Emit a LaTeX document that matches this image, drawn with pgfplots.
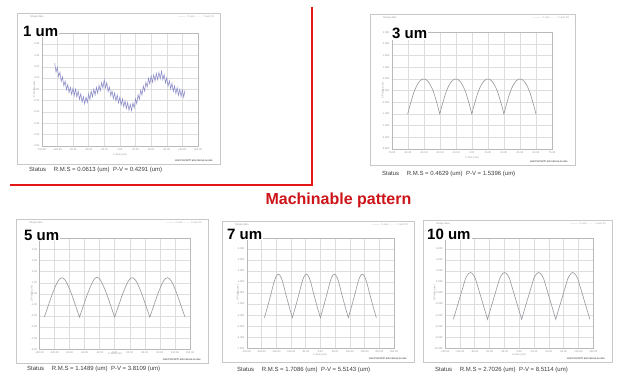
\documentclass[border=0pt]{standalone}
\usepackage{pgfplots}
\pgfplotsset{compat=1.18}
\usepackage{fontspec}
\setmainfont{Liberation Sans}
\definecolor{redline}{RGB}{228,22,22}
\definecolor{titlered}{RGB}{205,20,25}
\definecolor{curvegray}{RGB}{150,150,158}
\definecolor{curvelav}{RGB}{138,138,200}
\definecolor{framegray}{RGB}{200,200,200}
\definecolor{gridgray}{RGB}{222,222,222}
\definecolor{statusgray}{RGB}{60,60,60}
\pgfplotsset{
  panel/.style={
    scale only axis,
    axis line style={draw=gray!55, line width=0.35pt},
    grid=major,
    major grid style={draw=gridgray, line width=0.35pt},
    tick style={draw=none},
    tick label style={font=\fontsize{2.6}{3}\selectfont, text=gray!85},
    xticklabel style={yshift=1.2pt},
    yticklabel style={xshift=1.2pt},
    /pgf/number format/assume math mode=true,
    /pgf/number format/.cd, fixed, fixed zerofill, precision=2,
  },
}
\newcommand{\tinytxt}{\fontsize{2.6}{3}\selectfont}
\newcommand{\biglbl}{\fontsize{15}{16}\selectfont\bfseries}
\newcommand{\statustxt}{\fontsize{6}{7}\selectfont\color{statusgray}}
\begin{document}
\begin{tikzpicture}
\path[use as bounding box, fill=white] (0,0) rectangle (619pt,374pt);
% ---------- frames ----------
\draw[framegray, line width=0.5pt, fill=white] (17pt,210pt) rectangle (220pt,361pt);
\draw[framegray, line width=0.5pt, fill=white] (370pt,209pt) rectangle (575pt,360pt);
\draw[framegray, line width=0.5pt, fill=white] (16pt,11pt) rectangle (208pt,155pt);
\draw[framegray, line width=0.5pt, fill=white] (222pt,12pt) rectangle (414pt,153pt);
\draw[framegray, line width=0.5pt, fill=white] (423pt,12pt) rectangle (612pt,154pt);
% ---------- small texts inside frames ----------
\foreach \fx/\fy/\rx/\bx/\by/\cx/\cy in {17/361/220/213/212/120/219, 370/360/575/568/211/472/216, 16/155/208/201/13/115/20, 222/153/414/407/14/320/19, 423/154/612/605/14/519/19}{
  \node[anchor=north west, inner sep=0pt, text=gray!80] at (\fx pt+13pt,\fy pt-2pt) {\tinytxt Shape data};
  \node[anchor=north east, inner sep=0pt, text=gray!70] at (\rx pt-6pt,\fy pt-2pt) {\tinytxt ———\ \ X-axis\ \ - - - -\ \ Y-axis Fit};
  \node[anchor=south east, inner sep=0pt, text=gray!30!black] at (\bx pt,\by pt) {\tinytxt Link:PLUSP/P arb.stat.an.ne.dev};
  \node[inner sep=0pt, text=gray!80] at (\cx pt,\cy pt) {\tinytxt X-Axis (um)};
}
% ---------- panel 1 um ----------
\begin{axis}[panel, at={(41.7pt,228pt)}, anchor=south west, width=156.3pt, height=113.3pt,
  xmin=-150, xmax=150, ymin=-0.5, ymax=0.5,
  xtick={-150,-120,...,150}, ytick={-0.5,-0.4,-0.3,-0.2,-0.1,0,0.1,0.2,0.3,0.4},
  ylabel={\tinytxt Z-Profile (um)}, ylabel style={text=gray!80, yshift=-9pt}]
\addplot[curvelav, line width=0.55pt] coordinates {
(-125,0.23)(-122.5,0.153)(-120,0.195)(-117.5,0.113)(-115,0.15)(-112.5,0.07)(-110,0.11)(-107.5,0.031)(-105,0.072)(-102.5,-0.003)(-100,0.043)(-97.5,-0.03)(-95,0.018)(-92.5,-0.046)(-90,0.011)(-87.5,-0.053)(-85,0.003)(-82.5,-0.066)(-80,-0.015)(-77.5,-0.088)(-75,-0.04)(-72.5,-0.113)(-70,-0.065)(-67.5,-0.128)(-65,-0.07)(-62.5,-0.116)(-60,-0.042)(-57.5,-0.089)(-55,-0.015)(-52.5,-0.067)(-50,0.002)(-47.5,-0.05)(-45,0.018)(-42.5,-0.034)(-40,0.035)(-37.5,-0.013)(-35,0.06)(-32.5,0.013)(-30,0.085)(-27.5,0.013)(-25,0.06)(-22.5,-0.02)(-20,0.02)(-17.5,-0.057)(-15,-0.014)(-12.5,-0.083)(-10,-0.032)(-7.5,-0.102)(-5,-0.051)(-2.5,-0.121)(0,-0.07)(2.5,-0.138)(5,-0.085)(7.5,-0.153)(10,-0.101)(12.5,-0.169)(15,-0.117)(17.5,-0.185)(20,-0.133)(22.5,-0.187)(25,-0.12)(27.5,-0.162)(30,-0.084)(32.5,-0.126)(35,-0.047)(37.5,-0.088)(40,-0.008)(42.5,-0.049)(45,0.03)(47.5,-0.014)(50,0.063)(52.5,0.02)(55,0.097)(57.5,0.047)(60,0.117)(62.5,0.063)(65,0.128)(67.5,0.074)(70,0.14)(72.5,0.085)(75,0.15)(77.5,0.095)(80,0.16)(82.5,0.085)(85,0.13)(87.5,0.056)(90,0.102)(92.5,0.029)(95,0.076)(97.5,0.005)(100,0.053)(102.5,-0.019)(105,0.03)(107.5,-0.038)(110,0.015)(112.5,-0.053)(115,0)(117.5,-0.063)(120,-0.005)(122.5,-0.068)(125,-0.01)};
\end{axis}
% ---------- panel 3 um ----------
\begin{axis}[panel, at={(391.7pt,225pt)}, anchor=south west, width=160.3pt, height=116.7pt,
  xmin=-75, xmax=75, ymin=-2.5, ymax=2.5,
  xtick={-75,-60,...,75}, ytick={-2.5,-2,...,2.5},
  yticklabel style={/pgf/number format/precision=3},
  ylabel={\tinytxt Z-Profile (um)}, ylabel style={text=gray!80, yshift=-9pt}]
\addplot[curvegray, line width=0.6pt] coordinates {
(-60,-1.0)(-58.5,-0.73)(-57,-0.49)(-55.5,-0.25)(-54,-0.04)(-52.5,0.125)(-51,0.26)(-49.5,0.365)(-48,0.44)(-46.5,0.485)(-45,0.5)(-43.5,0.485)(-42,0.44)(-40.5,0.365)(-39,0.26)(-37.5,0.125)(-36,-0.04)(-34.5,-0.25)(-33,-0.49)(-31.5,-0.73)
(-30,-1.0)(-28.5,-0.73)(-27,-0.49)(-25.5,-0.25)(-24,-0.04)(-22.5,0.125)(-21,0.26)(-19.5,0.365)(-18,0.44)(-16.5,0.485)(-15,0.5)(-13.5,0.485)(-12,0.44)(-10.5,0.365)(-9,0.26)(-7.5,0.125)(-6,-0.04)(-4.5,-0.25)(-3,-0.49)(-1.5,-0.73)
(0,-1.0)(1.5,-0.73)(3,-0.49)(4.5,-0.25)(6,-0.04)(7.5,0.125)(9,0.26)(10.5,0.365)(12,0.44)(13.5,0.485)(15,0.5)(16.5,0.485)(18,0.44)(19.5,0.365)(21,0.26)(22.5,0.125)(24,-0.04)(25.5,-0.25)(27,-0.49)(28.5,-0.73)
(30,-1.0)(31.5,-0.73)(33,-0.49)(34.5,-0.25)(36,-0.04)(37.5,0.125)(39,0.26)(40.5,0.365)(42,0.44)(43.5,0.485)(45,0.5)(46.5,0.485)(48,0.44)(49.5,0.365)(51,0.26)(52.5,0.125)(54,-0.04)(55.5,-0.25)(57,-0.49)(58.5,-0.73)
(60,-1.0)};
\end{axis}
% ---------- panel 5 um ----------
\begin{axis}[panel, at={(39.3pt,24.7pt)}, anchor=south west, width=150.7pt, height=111pt,
  xmin=-150, xmax=150, ymin=-5, ymax=5,
  xtick={-150,-120,...,150}, ytick={-5,-4,...,4},
  ylabel={\tinytxt Z-Profile (um)}, ylabel style={text=gray!80, yshift=-9pt}]
\addplot[curvegray, line width=0.6pt] coordinates {
(-140,-2.1)(-136.5,-1.64)(-133,-1.18)(-129.5,-0.72)(-126,-0.25)(-122.5,0.17)(-119,0.56)(-115.5,0.92)(-112,1.20)(-108.5,1.38)(-105,1.45)(-101.5,1.38)(-98,1.20)(-94.5,0.92)(-91,0.56)(-87.5,0.17)(-84,-0.25)(-80.5,-0.72)(-77,-1.18)(-73.5,-1.64)
(-70,-2.1)(-66.5,-1.64)(-63,-1.18)(-59.5,-0.72)(-56,-0.25)(-52.5,0.17)(-49,0.56)(-45.5,0.92)(-42,1.22)(-38.5,1.42)(-35,1.50)(-31.5,1.42)(-28,1.22)(-24.5,0.92)(-21,0.56)(-17.5,0.17)(-14,-0.25)(-10.5,-0.72)(-7,-1.18)(-3.5,-1.64)
(0,-2.1)(3.5,-1.64)(7,-1.18)(10.5,-0.72)(14,-0.25)(17.5,0.17)(21,0.56)(24.5,0.92)(28,1.20)(31.5,1.38)(35,1.45)(38.5,1.38)(42,1.20)(45.5,0.92)(49,0.56)(52.5,0.17)(56,-0.25)(59.5,-0.72)(63,-1.18)(66.5,-1.64)
(70,-2.1)(73.5,-1.64)(77,-1.18)(80.5,-0.72)(84,-0.25)(87.5,0.17)(91,0.56)(94.5,0.92)(98,1.20)(101.5,1.38)(105,1.45)(108.5,1.38)(112,1.20)(115.5,0.92)(119,0.56)(122.5,0.17)(126,-0.25)(129.5,-0.72)(133,-1.18)(136.5,-1.64)
(140,-2.1)};
\end{axis}
% ---------- panel 7 um ----------
\begin{axis}[panel, at={(246.7pt,25.7pt)}, anchor=south west, width=147.3pt, height=110.6pt,
  xmin=-250, xmax=250, ymin=-7.5, ymax=7.5,
  xtick={-250,-200,...,250}, ytick={-7.5,-6,-4.5,-3,-1.5,0,1.5,3,4.5,6},
  yticklabel style={/pgf/number format/precision=3},
  ylabel={\tinytxt Z-Profile (um)}, ylabel style={text=gray!80, yshift=-9pt}]
\addplot[curvegray, line width=0.6pt] coordinates {
(-190,-3.35)(-185.25,-2.70)(-180.5,-2.05)(-175.75,-1.34)(-171,-0.64)(-166.25,0.07)(-161.5,0.84)(-156.75,1.55)(-152,2.08)(-147.25,2.43)(-142.5,2.55)(-137.75,2.43)(-133,2.08)(-128.25,1.55)(-123.5,0.84)(-118.75,0.07)(-114,-0.64)(-109.25,-1.34)(-104.5,-2.05)(-99.75,-2.70)
(-95,-3.35)(-90.25,-2.70)(-85.5,-2.05)(-80.75,-1.34)(-76,-0.64)(-71.25,0.07)(-66.5,0.84)(-61.75,1.55)(-57,2.08)(-52.25,2.43)(-47.5,2.55)(-42.75,2.43)(-38,2.08)(-33.25,1.55)(-28.5,0.84)(-23.75,0.07)(-19,-0.64)(-14.25,-1.34)(-9.5,-2.05)(-4.75,-2.70)
(0,-3.35)(4.75,-2.70)(9.5,-2.05)(14.25,-1.34)(19,-0.64)(23.75,0.07)(28.5,0.84)(33.25,1.55)(38,2.08)(42.75,2.43)(47.5,2.55)(52.25,2.43)(57,2.08)(61.75,1.55)(66.5,0.84)(71.25,0.07)(76,-0.64)(80.75,-1.34)(85.5,-2.05)(90.25,-2.70)
(95,-3.35)(99.75,-2.70)(104.5,-2.05)(109.25,-1.34)(114,-0.64)(118.75,0.07)(123.5,0.84)(128.25,1.55)(133,2.08)(137.75,2.43)(142.5,2.55)(147.25,2.43)(152,2.08)(156.75,1.55)(161.5,0.84)(166.25,0.07)(171,-0.64)(175.75,-1.34)(180.5,-2.05)(185.25,-2.70)
(190,-3.35)};
\end{axis}
% ---------- panel 10 um ----------
\begin{axis}[panel, at={(445pt,25.7pt)}, anchor=south west, width=148.3pt, height=110.6pt,
  xmin=-150, xmax=150, ymin=-10, ymax=10,
  xtick={-150,-120,...,150}, ytick={-10,-8,-6,-4,-2,0,2,4,6,8},
  yticklabel style={/pgf/number format/precision=3},
  ylabel={\tinytxt Z-Profile (um)}, ylabel style={text=gray!80, yshift=-9pt}]
\addplot[curvegray, line width=0.6pt] coordinates {
(-133,-4.75)(-129.55,-3.71)(-126.1,-2.67)(-122.65,-1.63)(-119.2,-0.60)(-115.75,0.44)(-112.3,1.48)(-108.85,2.52)(-105.4,3.15)(-101.95,3.55)(-98.5,3.70)(-95.05,3.55)(-91.6,3.15)(-88.15,2.52)(-84.7,1.48)(-81.25,0.44)(-77.8,-0.60)(-74.35,-1.63)(-70.9,-2.67)(-67.45,-3.71)
(-64,-4.75)(-60.55,-3.71)(-57.1,-2.67)(-53.65,-1.63)(-50.2,-0.60)(-46.75,0.44)(-43.3,1.48)(-39.85,2.52)(-36.4,3.15)(-32.95,3.55)(-29.5,3.70)(-26.05,3.55)(-22.6,3.15)(-19.15,2.52)(-15.7,1.48)(-12.25,0.44)(-8.8,-0.60)(-5.35,-1.63)(-1.9,-2.67)(1.55,-3.71)
(5,-4.75)(8.45,-3.71)(11.9,-2.67)(15.35,-1.63)(18.8,-0.60)(22.25,0.44)(25.7,1.48)(29.15,2.52)(32.6,3.15)(36.05,3.55)(39.5,3.70)(42.95,3.55)(46.4,3.15)(49.85,2.52)(53.3,1.48)(56.75,0.44)(60.2,-0.60)(63.65,-1.63)(67.1,-2.67)(70.55,-3.71)
(74,-4.75)(77.45,-3.71)(80.9,-2.67)(84.35,-1.63)(87.8,-0.60)(91.25,0.44)(94.7,1.48)(98.15,2.52)(101.6,3.15)(105.05,3.55)(108.5,3.70)(111.95,3.55)(115.4,3.15)(118.85,2.52)(122.3,1.48)(125.75,0.44)(129.2,-0.60)(132.65,-1.63)(136.1,-2.67)(139.55,-3.71)
(143,-4.75)};
\end{axis}
% ---------- big labels ----------
\node[anchor=west, inner sep=1pt, fill=white] at (22pt,343pt) {\biglbl 1 um};
\node[anchor=west, inner sep=1pt, fill=white] at (391pt,340.5pt) {\biglbl 3 um};
\node[anchor=west, inner sep=1pt, fill=white] at (23pt,139pt) {\biglbl 5 um};
\node[anchor=west, inner sep=1pt, fill=white] at (226pt,140pt) {\biglbl 7 um};
\node[anchor=west, inner sep=1pt, fill=white] at (426pt,140pt) {\biglbl 10 um};
% ---------- status lines ----------
\node[anchor=west, inner sep=0pt] at (29pt,204pt) {\statustxt Status\hspace{6pt} R.M.S = 0.0613 (um)\ \ P-V = 0.4291 (um)};
\node[anchor=west, inner sep=0pt] at (382pt,200pt) {\statustxt Status\hspace{6pt} R.M.S = 0.4629 (um)\ \ P-V = 1.5396 (um)};
\node[anchor=west, inner sep=0pt] at (27pt,5pt) {\statustxt Status\hspace{6pt} R.M.S = 1.1489 (um)\ \ P-V = 3.8109 (um)};
\node[anchor=west, inner sep=0pt] at (237pt,4pt) {\statustxt Status\hspace{6pt} R.M.S = 1.7086 (um)\ \ P-V = 5.5143 (um)};
\node[anchor=west, inner sep=0pt] at (435pt,4pt) {\statustxt Status\hspace{6pt} R.M.S = 2.7026 (um)\ \ P-V = 8.5114 (um)};
% ---------- red bracket and title ----------
\draw[redline, line width=1.8pt] (312pt,367pt) -- (312pt,189pt) -- (10pt,189pt);
\node[inner sep=0pt, text=titlered] at (338.5pt,174pt) {\fontsize{16}{18}\selectfont\bfseries Machinable pattern};
\end{tikzpicture}
\end{document}
